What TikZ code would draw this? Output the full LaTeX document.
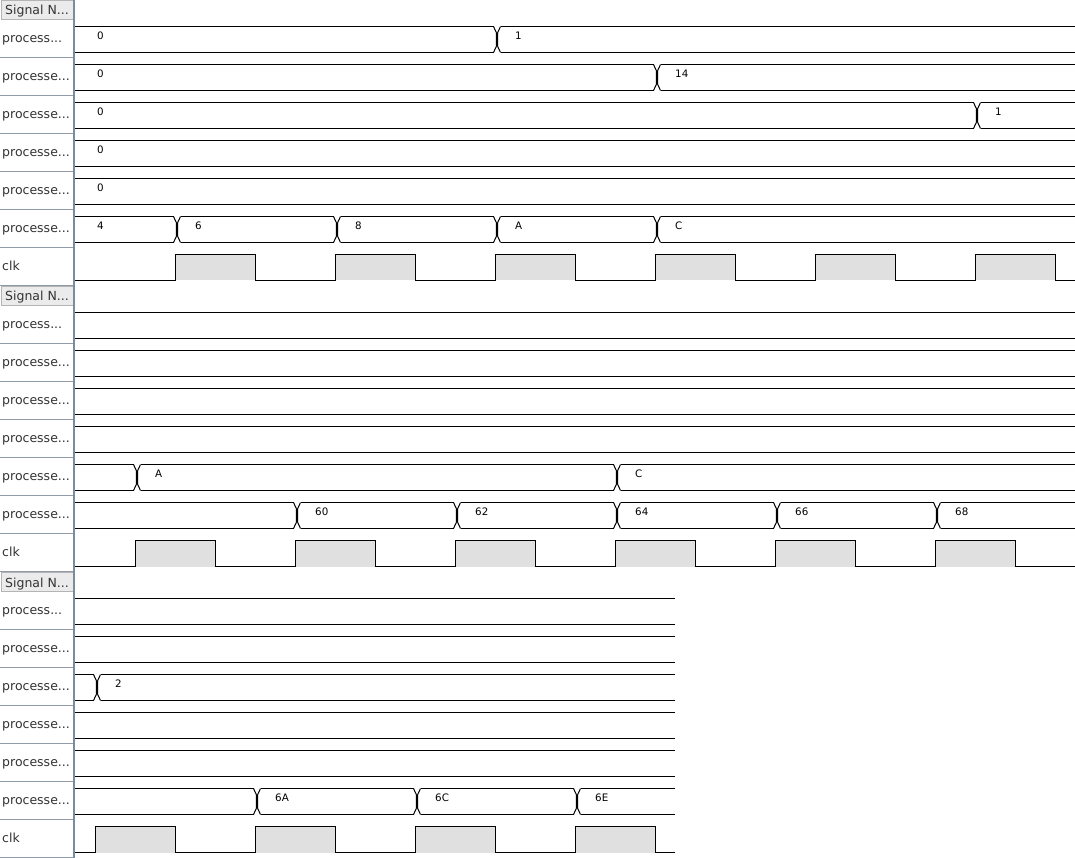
\documentclass[tikz,border=0pt]{standalone}
\usepackage{fontspec}
\setmainfont{DejaVu Sans}
\newfontfamily\valfont{DejaVu Sans}
\definecolor{clkfill}{HTML}{E0E0E0}
\definecolor{divider}{HTML}{7D8C9B}
\definecolor{sepgray}{HTML}{8E9BA8}
\definecolor{hdrfill}{HTML}{EBEBEB}
\definecolor{hdrdraw}{HTML}{B4B4B4}
\definecolor{lblgray}{HTML}{333333}
\newcommand\wvpanel[2]{% #1 panel top y, #2 panel id
  \fill[hdrfill] (1,#1+0.5) rectangle (73,#1+19);
  \draw[hdrdraw, line width=0.8pt] (1,#1+0.5) rectangle (73,#1+19);
  \node[namelbl] (hdr#2) at (5,#1+15) {Signal N...};
  \foreach \k in {1,...,7} \draw[sepgray] (0,#1+19+38*\k) -- (74,#1+19+38*\k);
  \node[namelbl] (n#2-0) at (2,#1+42.5) {process...};
  \foreach \k in {1,...,5} \node[namelbl] (n#2-\k) at (2,#1+42.5+38*\k) {processe...};
  \node[namelbl] (n#2-6) at (2,#1+42.5+38*6) {clk};
}
\newcommand\busline[2]{% #1 top, #2 xend
  \draw[sig] (75,#1) -- (#2,#1) (75,#1+26) -- (#2,#1+26);}
\newcommand\trn[2]{% #1 t, #2 top
  \fill[white] (#1-3.5,#2-1) rectangle (#1+3.5,#2+27);
  \draw[sig] (#1-3.5,#2) -- (#1-0.7,#2+6) -- (#1-0.7,#2+20) -- (#1-3.5,#2+26);
  \draw[sig] (#1+3.5,#2) -- (#1+0.7,#2+6) -- (#1+0.7,#2+20) -- (#1+3.5,#2+26);}
\newcommand\val[3]{% #1 x, #2 top, #3 text
  \node[vallbl] (v#1-#2) at (#1,#2+12.8) {#3};}
\newcommand\clkrow[3]{% #1 top, #2 xend, #3 rises
  \foreach \r in {#3} \fill[clkfill] (\r,#1) rectangle (\r+80,#1+26);
  \draw[sig] (75,#1+26) \foreach \r in {#3} { -- (\r,#1+26) -- (\r,#1) -- (\r+80,#1) -- (\r+80,#1+26)} -- (#2,#1+26);}
\begin{document}
\begin{tikzpicture}[x=1pt,y=-1pt,
  sig/.style={draw=black, line width=1pt},
  namelbl/.style={anchor=base west, inner sep=0pt, font=\fontsize{12.5}{14}\selectfont, text=lblgray},
  vallbl/.style={anchor=base west, inner sep=0pt, font=\valfont\fontsize{10.3}{11}\selectfont}]
\useasboundingbox (0,0) rectangle (1075,858);
\fill[white] (0,0) rectangle (1075,858);
% left column
\wvpanel{0}{a}
\wvpanel{286}{b}
\wvpanel{572}{c}
\draw[divider, line width=1.3pt] (74,0) -- (74,858);
\begin{scope}[yshift=-0.5pt]
% ---------- panel 1 ----------
\busline{26}{1075} \trn{497}{26} \val{97}{26}{0} \val{515}{26}{1}
\busline{64}{1075} \trn{657}{64} \val{97}{64}{0} \val{675}{64}{14}
\busline{102}{1075} \trn{977}{102} \val{97}{102}{0} \val{995}{102}{1}
\busline{140}{1075} \val{97}{140}{0}
\busline{178}{1075} \val{97}{178}{0}
\busline{216}{1075}
\foreach \t in {177,337,497,657} {\trn{\t}{216}}
\val{97}{216}{4} \val{195}{216}{6} \val{355}{216}{8} \val{515}{216}{A} \val{675}{216}{C}
\clkrow{254}{1075}{175,335,495,655,815,975}
% ---------- panel 2 ----------
\busline{312}{1075}
\busline{350}{1075}
\busline{388}{1075}
\busline{426}{1075}
\busline{464}{1075} \trn{137}{464} \trn{617}{464}
\val{155}{464}{A} \val{635}{464}{C}
\busline{502}{1075}
\foreach \t in {297,457,617,777,937} {\trn{\t}{502}}
\val{315}{502}{60} \val{475}{502}{62} \val{635}{502}{64} \val{795}{502}{66} \val{955}{502}{68}
\clkrow{540}{1075}{135,295,455,615,775,935}
% ---------- panel 3 ----------
\busline{598}{675}
\busline{636}{675}
\busline{674}{675} \trn{97}{674} \val{115}{674}{2}
\busline{712}{675}
\busline{750}{675}
\busline{788}{675}
\foreach \t in {257,417,577} {\trn{\t}{788}}
\val{275}{788}{6A} \val{435}{788}{6C} \val{595}{788}{6E}
\clkrow{826}{675}{95,255,415,575}
\end{scope}
\end{tikzpicture}
\end{document}
